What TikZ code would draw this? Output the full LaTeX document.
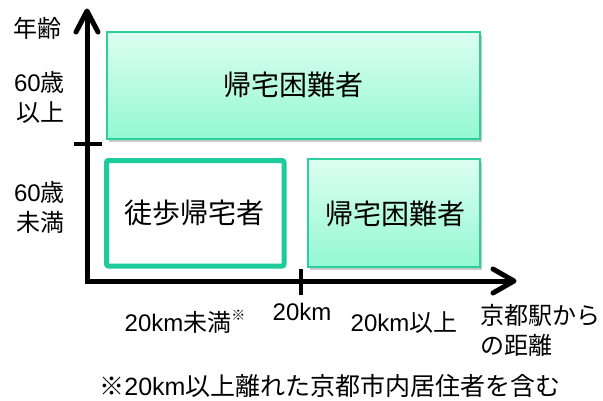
\documentclass[tikz,border=0pt]{standalone}
\usepackage{fontspec}
\setmainfont{Liberation Sans}
\newfontfamily\jp{Noto Sans CJK JP}
\usetikzlibrary{arrows.meta,shadows}
\definecolor{boxtop}{HTML}{DCFEF1}
\definecolor{boxbot}{HTML}{94F8D4}
\definecolor{boxline}{HTML}{2CCF9E}
\definecolor{thickline}{HTML}{1DCC9A}
\tikzset{
  axis/.style={line width=5pt},
  head/.style={line width=5pt,line cap=round,line join=round},
  tickline/.style={line width=3.5pt},
  hardbox/.style={draw=boxline,line width=1.6pt,top color=boxtop,bottom color=boxbot,
    drop shadow={shadow xshift=1.5pt,shadow yshift=-2.5pt,opacity=0.3,fill=black!70}},
  walkbox/.style={draw=thickline,line width=5pt,rounded corners=2pt,fill=white},
  lbl/.style={font=\jp\fontsize{24}{30}\selectfont,inner sep=0pt},
  boxtext/.style={font=\jp\fontsize{28}{30}\selectfont,inner sep=0pt},
}
\begin{document}
\begin{tikzpicture}[x=1pt,y=-1pt]
\useasboundingbox (0,0) rectangle (603,400);
% boxes
\draw[hardbox] (107,32) rectangle (480,139);
\node[boxtext] (topbox) at (293,85) {帰宅困難者};
\draw[walkbox] (106.5,160.5) rectangle (284,266);
\node[boxtext] (walk) at (194,213) {徒歩帰宅者};
\draw[hardbox] (308,159) rectangle (480,267);
\node[boxtext] (rightbox) at (395,214) {帰宅困難者};
% axes
\coordinate (O) at (87,281);
\coordinate (ytip) at (87,11);
\coordinate (ya1) at (76,32);
\coordinate (ya2) at (98,32);
\coordinate (xtip) at (514,281);
\coordinate (xa1) at (493,269);
\coordinate (xa2) at (493,293);
\draw[axis] ([yshift=2.5pt]O) -- (ytip);
\draw[head] (ya1) -- (ytip) -- (ya2);
\draw[axis] ([xshift=-2.5pt]O) -- (xtip);
\draw[head] (xa1) -- (xtip) -- (xa2);
\coordinate (yt1) at (74,144);
\coordinate (yt2) at (102,144);
\draw[tickline] (yt1) -- (yt2);
\coordinate (xt1) at (301,269);
\coordinate (xt2) at (301,295);
\draw[tickline] (xt1) -- (xt2);
% labels
\node[lbl] (age) at (37,28) {年齢};
\node[lbl,anchor=east,align=right] (old) at (65,97) {{\rmfamily 60}歳\\以上};
\node[lbl,anchor=east,align=right] (young) at (65,207) {{\rmfamily 60}歳\\未満};
\node[lbl] (near) at (185,322) {{\rmfamily 20km}未満\raisebox{0.45em}{\fontsize{14}{14}\selectfont ※}};
\node[lbl] (mid) at (302,312) {{\rmfamily 20km}};
\node[lbl] (far) at (404,323) {{\rmfamily 20km}以上};
\node[lbl,anchor=west,align=left] (dist) at (480,330) {京都駅から\\の距離};
\node[lbl,font=\jp\fontsize{25}{30}\selectfont,anchor=base] (note) at (330,395) {※{\rmfamily 20km}以上離れた京都市内居住者を含む};
\end{tikzpicture}
\end{document}
